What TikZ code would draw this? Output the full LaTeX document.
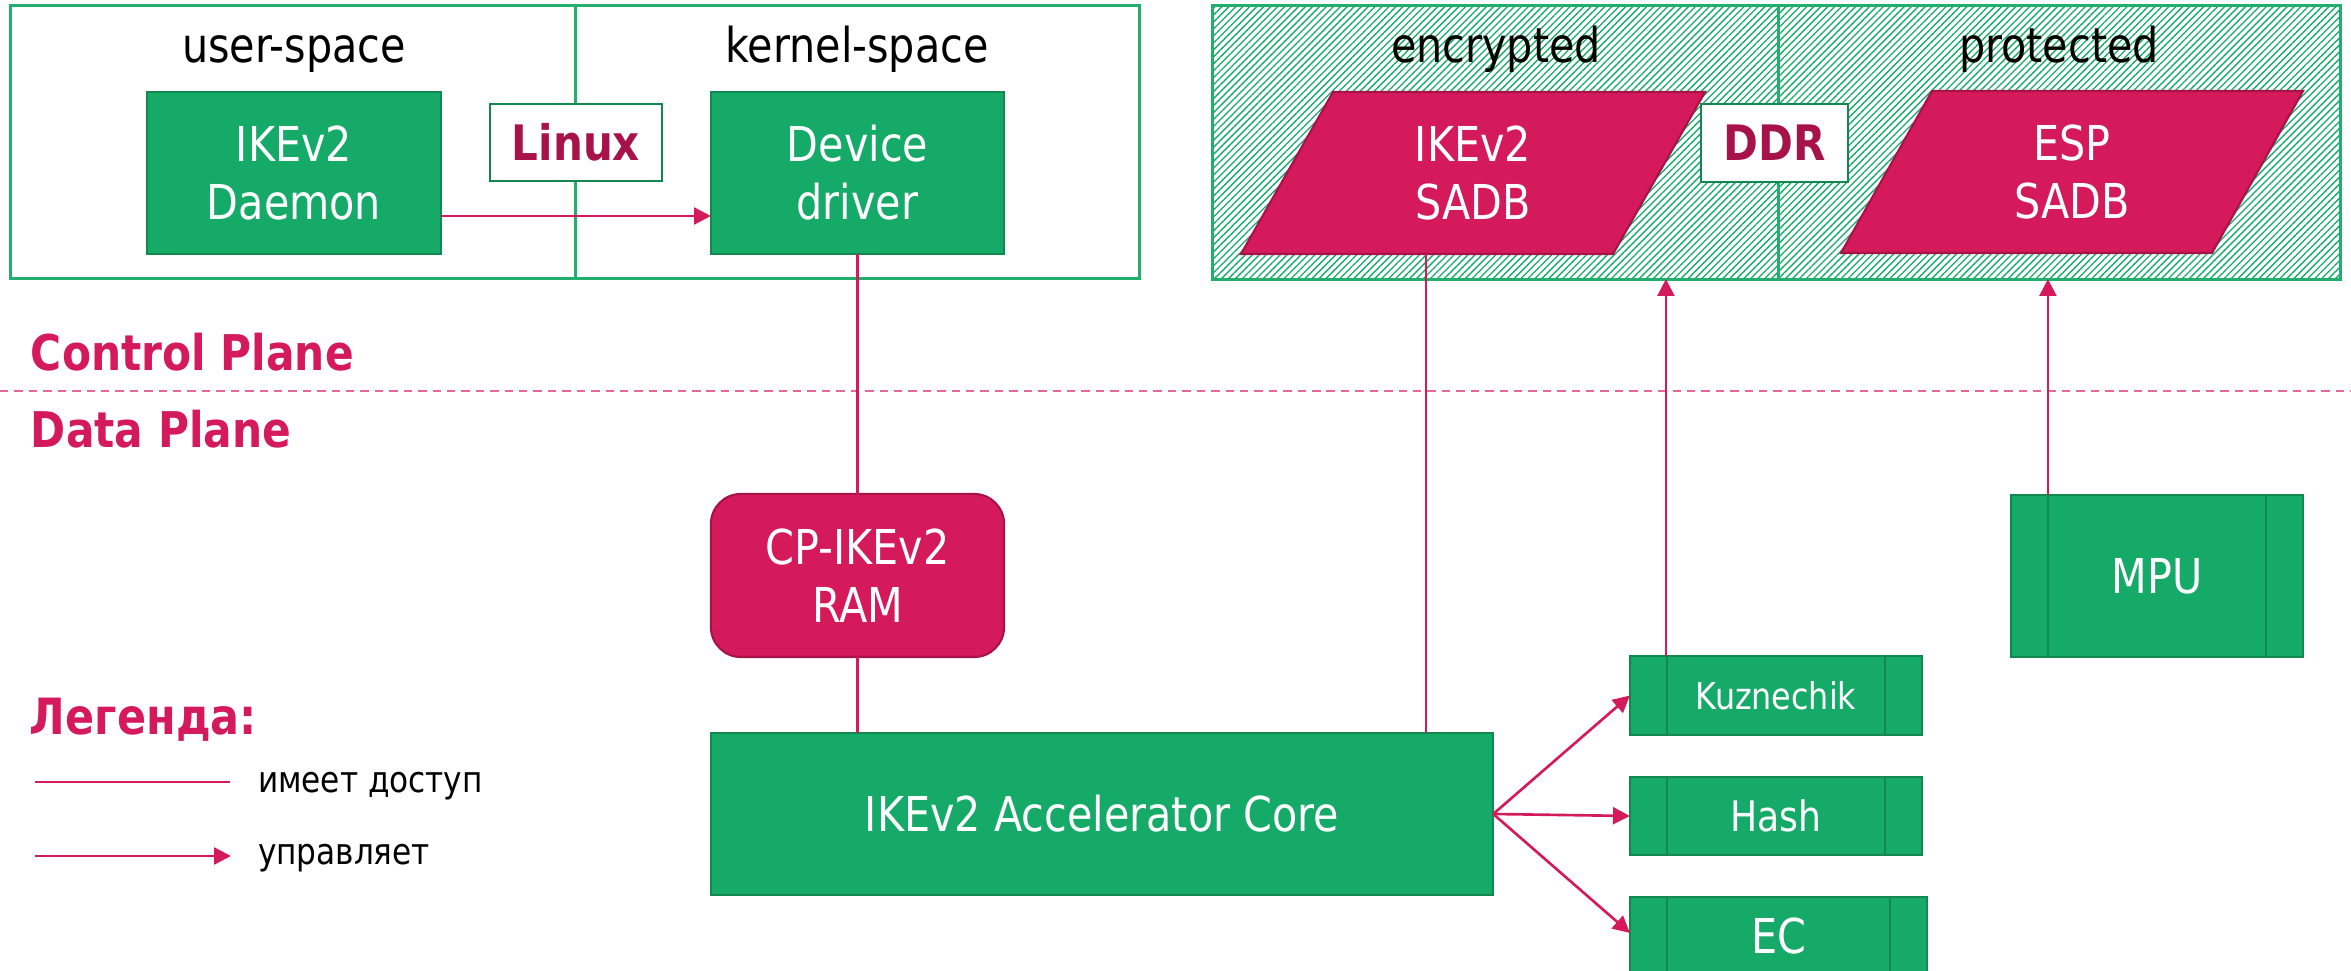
\documentclass[tikz,border=0pt]{standalone}
\usepackage{fontspec}
\setmainfont{DejaVu Sans}[FakeStretch=0.86]
\usetikzlibrary{arrows.meta,patterns.meta,calc}
\definecolor{grn}{HTML}{16AA68}
\definecolor{grnd}{HTML}{12884F}
\definecolor{grnl}{HTML}{22AE6C}
\definecolor{crim}{HTML}{D51A5B}
\definecolor{crimd}{HTML}{A8124A}
\begin{document}
\begin{tikzpicture}[x=0.01cm,y=-0.01cm,
  every node/.style={inner sep=0pt,outer sep=0pt},
  mainfont/.style={font=\fontsize{13.66}{16.5}\selectfont},
  gbox/.style={draw=grnd,line width=0.7pt,fill=grn,text=white,align=center,mainfont},
  proc/.style={gbox,path picture={
     \draw[grnd,line width=0.7pt]
       ([xshift=0.37cm]path picture bounding box.north west) -- ([xshift=0.37cm]path picture bounding box.south west)
       ([xshift=-0.37cm]path picture bounding box.north east) -- ([xshift=-0.37cm]path picture bounding box.south east);}},
  rbox/.style={draw=crimd,line width=0.6pt,fill=crim,text=white,align=center,mainfont},
  cont/.style={draw=grnl,line width=0.85pt},
  hatchbox/.style={cont,pattern={Lines[angle=45,distance=1.4pt,line width=0.38pt]},pattern color=grn},
  tag/.style={draw=grnd,line width=0.7pt,fill=white,text=crimd,font=\bfseries\fontsize{13.9}{16}\selectfont},
  ttl/.style={anchor=base,mainfont},
  acc/.style={draw=crim,line width=0.65pt},
  ctl/.style={draw=crim,line width=0.75pt,-{Triangle[length=4.8pt,width=4.8pt]}},
  plane/.style={anchor=base west,text=crim,font=\bfseries\fontsize{14}{16}\selectfont},
  legtxt/.style={anchor=base west,font=\fontsize{10.3}{12}\selectfont}
]
\useasboundingbox (0,0) rectangle (2351,971);

% ---------- left container: Linux ----------
\node[cont,minimum width=11.28cm,minimum height=2.72cm] (host) at (575,142) {};
\draw[cont] (575,6) -- (575,278);
\node[ttl] (us) at (294,63) {user-space};
\node[ttl] (ks) at (857,63) {kernel-space};
\node[tag,minimum width=1.72cm,minimum height=0.77cm] (linux) at (576,142.5) {Linux};
\node[gbox,minimum width=2.94cm,minimum height=1.62cm] (daemon) at (294,173) {IKEv2\\Daemon};
\node[gbox,minimum width=2.93cm,minimum height=1.62cm] (driver) at (857.5,173) {Device\\driver};

% ---------- right container: DDR ----------
\node[hatchbox,minimum width=11.27cm,minimum height=2.73cm] (mem) at (1776.5,142.5) {};
\draw[cont] (1778,6) -- (1778,279);
\node[ttl] (enc) at (1496,63) {encrypted};
\node[ttl] (prot) at (2059,63) {protected};
\fill[crim,draw=crimd,line width=0.6pt] (1241,254) -- (1333,92) -- (1705,92) -- (1613,254) -- cycle;
\node[text=white,align=center,mainfont] (sadb) at (1473,173) {IKEv2\\SADB};
\fill[crim,draw=crimd,line width=0.6pt] (1841,253) -- (1932,91) -- (2303,91) -- (2212,253) -- cycle;
\node[text=white,align=center,mainfont] (esp) at (2072,172) {ESP\\SADB};
\node[tag,minimum width=1.47cm,minimum height=0.78cm] (ddr) at (1774.5,143) {DDR};

% ---------- planes ----------
\node[plane] (cp) at (31,371) {Control Plane};
\draw[crim!65,line width=0.55pt,dash pattern=on 2.4pt off 1.7pt] (0,391) -- (2351,391);
\node[plane] (dp) at (31,448) {Data Plane};

% ---------- data plane blocks ----------
\node[rbox,rounded corners=0.3cm,minimum width=2.93cm,minimum height=1.63cm] (ram) at (857.5,575.5) {CP-IKEv2\\RAM};
\node[gbox,minimum width=7.82cm,minimum height=1.62cm] (core) at (1102,814) {IKEv2 Accelerator Core};
\node[proc,minimum width=2.92cm,minimum height=0.79cm,font=\fontsize{10.5}{12}\selectfont] (kuz) at (1776,695.5) {Kuznechik};
\node[proc,minimum width=2.92cm,minimum height=0.78cm,font=\fontsize{11.95}{14}\selectfont] (hash) at (1776,816) {Hash};
\node[proc,minimum width=2.97cm,minimum height=0.78cm] (ec) at (1778.5,936) {EC};
\node[proc,minimum width=2.92cm,minimum height=1.62cm] (mpu) at (2157,576) {MPU};

% ---------- connectors ----------
\draw[ctl] ($(daemon.east)+(0,43)$) -- ($(driver.west)+(0,43)$);
\draw[acc] (driver.south) -- (ram.north);
\draw[acc] (ram.south) -- (ram.south |- core.north);
\coordinate (sadbfoot) at (1426,254);
\draw[acc] (sadbfoot) -- (sadbfoot |- core.north);
\coordinate (kuztop) at ($(kuz.north west)+(36,0)$);
\draw[ctl] (kuztop) -- (kuztop |- mem.south);
\coordinate (mputop) at ($(mpu.north west)+(37,0)$);
\draw[ctl] (mputop) -- (mputop |- mem.south);
\draw[ctl] (core.east) -- (kuz.west);
\draw[ctl] (core.east) -- (hash.west);
\draw[ctl] (core.east) -- ($(ec.west)+(0,-3)$);

% ---------- legend ----------
\node[anchor=base west,text=crim,font=\bfseries\fontsize{14.2}{16}\selectfont] (leg) at (30,735) {Легенда:};
\coordinate (la1) at (35,782);
\coordinate (la2) at (230,782);
\draw[acc] (la1) -- (la2);
\node[legtxt] (lt1) at (258,793) {имеет доступ};
\coordinate (lb1) at (35,856);
\coordinate (lb2) at (231,856);
\draw[ctl] (lb1) -- (lb2);
\node[legtxt] (lt2) at (258,865) {управляет};
\end{tikzpicture}
\end{document}
